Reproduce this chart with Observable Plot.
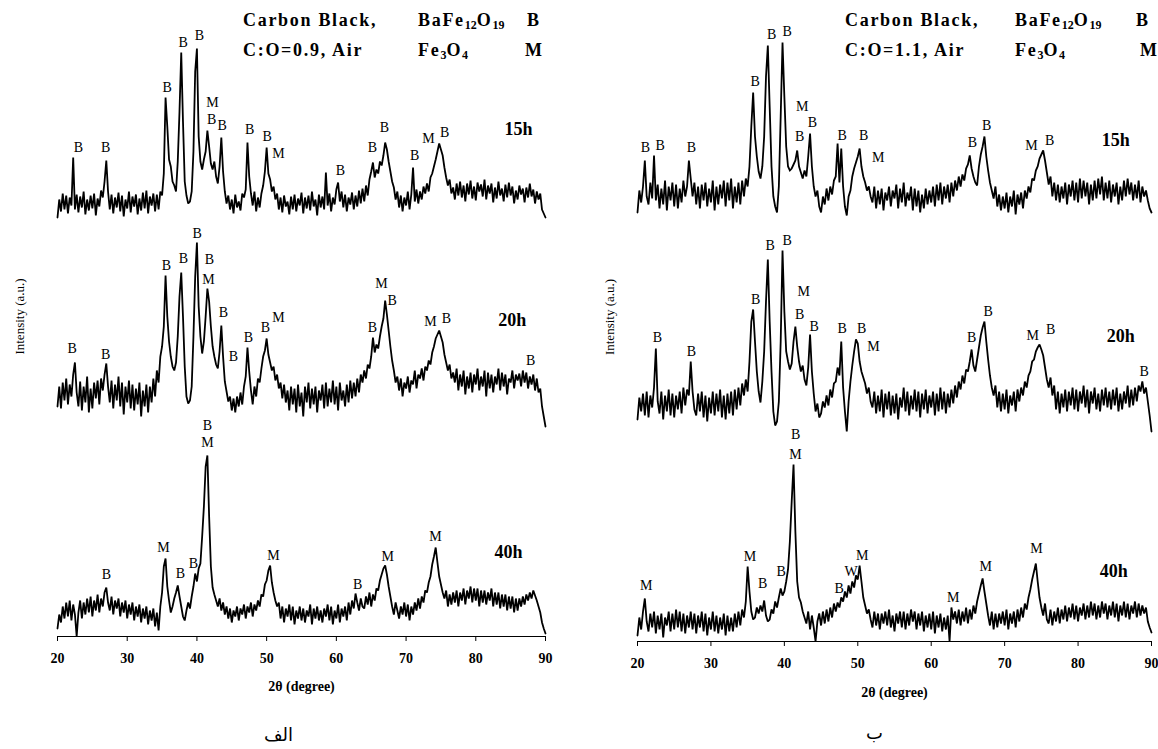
<!DOCTYPE html>
<html><head><meta charset="utf-8">
<script src="https://cdn.jsdelivr.net/npm/d3@7"></script>
<script src="https://cdn.jsdelivr.net/npm/@observablehq/plot@0.6"></script>
<style>
body{margin:0;background:#fff;}
#wrap{position:relative;width:1158px;height:749px;overflow:hidden;background:#fff;font-family:"Liberation Serif","Times New Roman",serif;}
#wrap svg{position:absolute;top:0;}
.leg{position:absolute;font-family:"Liberation Serif","Times New Roman",serif;font-weight:bold;font-size:18px;letter-spacing:1.7px;white-space:nowrap;line-height:18px;color:#000;}
.leg sub{font-size:12px;vertical-align:-3px;letter-spacing:0;}
</style></head><body><div id="wrap"></div>
<script>
// 2θ sampling: first angle and step (degrees)
const X0 = 20, STEP = 0.25;
const xTicks = [20, 30, 40, 50, 60, 70, 80, 90];
const sampleNames = ["15h", "20h", "40h"];
const stackOffsets = [415, 210, 0];
const SERIF = "'Liberation Serif', 'Times New Roman', serif";

// ---- Panel (الف): C:O = 0.9 ----
const L15 = [4,22,10,28, 12,26,8,24, 16,64,12,27, 9,25,14,30, 7,22,11,26, 13,28,6,23, 15,31,24,40, 61,30,12,27, 8,24,14,29, 10,26,5,22, 13,30,9,25, 15,27,7,23, 11,29,13,31, 8,25,16,28, 10,27,12,30, 26,48,124,95, 62,55,40,36, 30,60,110,169, 100,40,26,18, 20,30,70,150, 173,85,60,52, 62,70,91,75, 58,52,60,45, 38,55,84,50, 30,18,26,12, 22,8,27,14, 20,11,28,24, 32,79,45,28, 16,30,10,24, 14,28,36,50, 74,48,42,30, 35,22,28,12, 24,9,26,15, 20,7,25,12, 27,10,23,16, 29,8,24,13, 26,11,30,15, 22,6,27,14, 25,12,49,16, 28,10,24,17, 32,39,20,30, 14,27,10,24, 17,29,12,26, 15,31,18,33, 20,36,26,42, 50,59,44,52, 48,60,56,66, 79,72,60,50, 40,34,22,30, 14,26,10,24, 16,30,12,27, 54,20,32,18, 30,22,35,28, 38,30,44,48, 55,62,70,78, 72,66,54,44, 36,42,28,34, 22,38,26,40, 24,36,20,38, 27,41,23,35, 21,39,30,37, 25,42,22,36, 28,38,19,34, 23,40,26,33, 20,37,24,39, 26,35,18,31, 22,36,27,33, 19,34,24,38, 25,32,18,30, 22,28,12,8, 4];
const L20 = [20,40,18,44, 26,48,22,42, 30,52,64,34, 20,45,16,40, 24,50,14,38, 18,44,28,46, 22,48,36,52, 63,40,24,46, 18,42,26,50, 20,44,12,40, 24,46,18,42, 16,38,22,44, 10,36,20,42, 14,40,24,48, 30,56,44,70, 80,100,151,110, 85,70,60,56, 64,90,130,154, 110,60,30,23, 26,40,90,150, 184,120,90,73, 85,110,138,125, 100,80,70,62, 58,75,101,70, 45,35,25,30, 16,28,14,30, 20,34,22,40, 50,79,55,36, 22,40,30,48, 44,58,70,76, 88,72,64,56, 60,46,52,38, 44,28,42,24, 36,16,40,22, 38,14,42,20, 34,10,40,24, 44,18,38,22, 40,14,36,26, 42,18,44,20, 38,24,46,22, 40,16,44,26, 36,20,42,24, 46,28,44,30, 48,34,52,44, 56,48,62,58, 70,89,74,82, 78,90,100,108, 126,112,96,80, 66,56,44,50, 36,48,30,44, 38,50,34,46, 42,56,38,52, 48,58,46,60, 56,66,62,74, 80,88,92,96, 90,84,72,64, 56,62,48,54, 44,58,36,52, 40,56,32,50, 38,54,34,52, 42,58,36,50, 40,56,30,54, 38,52,34,50, 42,58,36,54, 40,52,32,48, 44,56,38,52, 46,53,40,56, 44,54,38,50, 42,52,36,48, 34,38,20,10, 0];
const L40 = [8,22,14,30, 18,34,20,36, 16,32,22,0, 24,36,18,34, 22,38,24,40, 20,36,26,42, 24,38,30,44, 49,34,26,40, 22,36,28,38, 20,34,24,36, 18,32,22,34, 16,30,20,32, 14,28,18,30, 12,26,16,28, 10,24,6,30, 44,70,78,50, 36,24,30,38, 44,51,40,30, 20,16,26,34, 28,40,50,63, 55,68,73,100, 130,170,181,120, 70,49,42,36, 30,38,26,34, 22,30,18,28, 14,26,20,30, 16,28,22,32, 18,30,24,34, 20,32,26,36, 30,42,40,52, 56,66,71,54, 44,36,30,34, 18,30,14,28, 20,32,16,30, 12,26,18,30, 16,28,14,26, 20,32,12,28, 18,30,16,26, 14,28,20,32, 16,30,12,26, 18,32,14,28, 20,30,16,34, 22,36,28,43, 34,26,38,30, 28,40,32,44, 30,42,36,48, 46,56,62,68, 71,62,50,40, 30,22,34,26, 18,30,22,34, 20,32,16,30, 22,34,26,38, 28,40,34,46, 44,54,60,72, 80,89,74,60, 52,44,38,46, 30,42,32,44, 34,46,30,44, 36,48,32,46, 38,50,34,48, 36,48,30,46, 34,46,32,44, 36,48,30,44, 32,44,28,42, 30,42,26,40, 28,40,24,38, 26,38,30,40, 32,42,36,44, 38,46,41,36, 30,24,14,8, 3];

// ---- Panel (ب): C:O = 1.1 ----
const R15 = [14,36,24,40, 66,30,22,44, 28,71,26,42, 18,38,22,46, 16,40,26,44, 20,42,18,38, 24,46,30,40, 66,48,30,44, 22,40,18,42, 26,44,20,38, 24,46,16,40, 22,42,28,46, 20,44,26,48, 18,40,24,44, 22,46,30,48, 40,60,100,134, 90,70,55,48, 60,90,150,181, 120,60,30,20, 14,40,110,184, 130,80,60,56, 58,62,66,76, 60,54,48,56, 50,70,93,60, 40,30,36,20, 14,30,22,38, 26,40,32,46, 50,83,44,78, 40,20,11,30, 36,50,58,64, 70,78,60,50, 44,36,40,30, 24,40,18,36, 22,38,16,34, 26,40,20,36, 28,42,18,38, 24,44,20,34, 26,40,16,38, 20,36,14,32, 18,38,22,36, 24,40,20,42, 26,44,22,40, 28,42,24,44, 30,46,36,50, 40,52,46,58, 62,71,58,50, 44,41,60,72, 80,90,70,56, 44,36,28,40, 20,32,16,30, 18,34,14,30, 20,36,12,32, 22,34,18,36, 28,40,34,48, 46,56,60,68, 72,76,66,54, 42,50,30,44, 26,42,24,40, 28,44,22,42, 30,46,26,44, 24,48,28,46, 30,44,22,42, 26,46,28,48, 32,50,26,44, 28,46,24,42, 30,44,22,40, 26,46,30,48, 32,44,26,42, 28,46,24,40, 30,36,26,18, 14];
const R20 = [12,34,20,38, 16,40,14,36, 24,44,83,30, 18,40,12,36, 20,42,16,38, 14,36,22,40, 18,44,26,42, 36,70,40,22, 16,38,20,40, 14,36,10,34, 18,40,16,38, 20,42,14,36, 12,38,18,40, 16,42,22,44, 26,48,36,52, 40,70,110,122, 90,60,40,29, 50,80,130,172, 110,60,20,6, 10,30,90,181, 120,80,70,62, 68,90,105,85, 70,60,66,52, 46,64,97,60, 38,20,28,14, 18,30,24,36, 26,42,34,48, 50,64,56,90, 44,20,0,30, 50,66,80,92, 88,70,60,54, 48,38,44,30, 24,40,18,36, 20,42,14,38, 22,40,16,36, 18,38,12,34, 24,44,20,40, 16,36,22,42, 20,40,14,38, 22,42,18,36, 24,40,16,38, 20,44,22,40, 18,38,24,42, 28,46,34,50, 42,56,48,62, 60,70,82,66, 60,72,84,96, 104,110,90,72, 56,44,36,46, 24,40,20,38, 22,42,18,36, 26,40,20,42, 30,44,36,50, 44,56,60,70, 72,80,84,87, 82,76,64,52, 44,54,36,46, 22,40,18,38, 24,42,20,40, 26,44,22,42, 20,40,28,46, 24,42,18,40, 28,44,22,38, 20,42,26,44, 24,40,22,42, 26,44,20,38, 22,40,28,46, 24,42,26,44, 30,46,40,50, 38,44,30,16, 0];
const R40 = [6,24,12,30, 43,20,10,28, 14,30,8,26, 12,28,4,24, 16,30,10,28, 12,32,14,30, 10,28,8,26, 14,30,12,28, 8,26,14,30, 10,28,6,24, 12,30,10,26, 8,24,12,28, 6,26,10,24, 10,28,14,30, 16,32,24,40, 75,50,30,22, 24,34,28,36, 30,41,26,20, 22,32,28,40, 34,44,53,46, 50,60,72,100, 140,177,110,60, 44,39,30,24, 18,30,12,26, 14,0,20,28, 16,30,18,32, 20,34,24,38, 30,39,34,44, 40,50,44,56, 48,60,54,66, 62,76,60,44, 36,28,32,22, 14,30,16,28, 12,28,18,30, 16,32,14,26, 10,28,18,30, 14,30,12,28, 16,32,20,30, 12,28,16,30, 10,26,14,28, 12,30,8,26, 14,28,10,24, 12,26,0,34, 22,30,18,32, 16,30,20,34, 18,32,22,36, 28,40,48,56, 63,50,38,26, 16,30,12,28, 14,28,18,30, 16,32,12,28, 18,30,14,32, 20,34,24,38, 32,44,52,62, 70,78,60,44, 34,26,38,22, 18,32,16,30, 20,34,18,32, 22,36,20,34, 24,38,22,36, 20,34,26,38, 22,36,24,40, 26,38,22,36, 24,40,28,38, 22,36,26,40, 24,38,20,36, 26,40,24,38, 22,36,28,40, 24,38,26,36, 28,34,20,14, 9];

// Peak labels: [2θ, stacked intensity, phase]
const leftPeakLabels = [
 [23.0,489,"B"],[26.9,489,"B"],[35.74,549,"B"],[38.03,594,"B"],[40.37,601,"B"],[42.24,534,"M"],[42.1,517,"B"],[43.63,511,"B"],[47.55,507,"B"],[50.09,500,"B"],[51.7,483,"M"],[60.6,466,"B"],[65.19,489,"B"],[66.9,509,"B"],[71.22,481,"B"],[73.23,498,"M"],[75.52,504,"B"],
 [22.1,288,"B"],[26.9,282,"B"],[35.64,371,"B"],[38.08,378,"B"],[40.04,403,"B"],[41.81,377,"B"],[41.66,357,"M"],[43.8,324,"B"],[45.25,280,"B"],[47.4,299,"B"],[49.84,309,"B"],[51.7,319,"M"],[65.19,309,"B"],[66.48,353,"M"],[68.02,336,"B"],[73.5,315,"M"],[75.8,318,"B"],[87.86,276,"B"],
 [27.03,62,"B"],[35.21,89,"M"],[37.65,63,"B"],[39.51,73,"B"],[41.52,211,"B"],[41.52,194,"M"],[50.99,81,"M"],[63.04,52,"B"],[67.35,80,"M"],[74.23,100,"M"]
];
const rightPeakLabels = [
 [21.09,494,"B"],[23.08,496,"B"],[27.36,494,"B"],[36.02,560,"B"],[38.26,607,"B"],[40.38,610,"B"],[42.44,535,"M"],[42.07,505,"B"],[43.81,519,"B"],[47.86,506,"B"],[50.79,506,"B"],[52.77,484,"M"],[65.6,499,"B"],[67.55,516,"B"],[73.64,496,"M"],[76.13,501,"B"],
 [22.72,304,"B"],[27.36,290,"B"],[36.08,342,"B"],[38.08,396,"B"],[40.38,401,"B"],[42.62,350,"M"],[42.07,327,"B"],[44.05,315,"B"],[47.86,313,"B"],[50.52,313,"B"],[52.15,295,"M"],[65.5,304,"B"],[67.77,330,"B"],[73.81,306,"M"],[76.27,312,"B"],[89.0,270,"B"],
 [21.2,56,"M"],[35.33,85,"M"],[37.03,58,"B"],[39.55,70,"B"],[41.53,207,"B"],[41.53,187,"M"],[47.48,53,"B"],[49.09,70,"W"],[50.6,86,"M"],[62.98,44,"M"],[67.41,75,"M"],[74.32,93,"M"]
];
// Sample (milling time) labels: [name, 2θ, stacked intensity]
const leftSampleLabels = [["15h",86.14,507],["20h",85.24,316],["40h",84.71,84]];
const rightSampleLabels = [["15h",85.12,501],["20h",85.8,305],["40h",84.85,70]];

function rows(series) {
  const out = [];
  series.forEach((arr, k) => arr.forEach((v, i) => out.push({x: X0 + STEP * i, y: v + stackOffsets[k], s: sampleNames[k]})));
  return out;
}

function panel({series, peaks, samples, width, height, marginLeft, marginRight, marginBottom, yMax, xLabelDy, yLabelDx, yLabelDy, caption, capDx, capDy}) {
  return Plot.plot({
    width, height, marginLeft, marginRight, marginTop: 10, marginBottom,
    x: {domain: [20, 90]},
    y: {domain: [0, yMax], axis: null},
    style: {fontFamily: SERIF, fontSize: "14px", color: "#000", background: "transparent", overflow: "visible"},
    marks: [
      Plot.ruleY([0], {stroke: "#000", strokeWidth: 1.2}),
      Plot.axisX({ticks: xTicks, tickFormat: d => String(d), tickSize: 5, tickPadding: 12, fontSize: 14, fontWeight: "bold", fontFamily: SERIF, label: null, stroke: "#000"}),
      Plot.line(rows(series), {x: "x", y: "y", z: "s", stroke: "#000", strokeWidth: 1.8, strokeLinejoin: "miter", strokeMiterlimit: 2}),
      Plot.text(peaks, {x: d => d[0], y: d => d[1], text: d => d[2], fontSize: 14, fontFamily: SERIF, lineAnchor: "middle", fill: "#000"}),
      Plot.text(samples, {x: d => d[1], y: d => d[2], text: d => d[0], fontSize: 18, fontWeight: "bold", fontFamily: SERIF, lineAnchor: "middle", fill: "#000"}),
      Plot.text(["2θ (degree)"], {text: d => d, frameAnchor: "bottom", dy: xLabelDy, fontSize: 14, fontWeight: "bold", fontFamily: SERIF, textAnchor: "middle", lineAnchor: "middle", fill: "#000"}),
      Plot.text(["Intensity (a.u.)"], {text: d => d, frameAnchor: "left", rotate: -90, dx: yLabelDx, dy: yLabelDy, fontSize: 13, fontFamily: SERIF, textAnchor: "middle", lineAnchor: "middle", fill: "#000"}),
      Plot.text([caption], {text: d => d, frameAnchor: "bottom", dx: capDx, dy: capDy, fontSize: 18, fontFamily: "'DejaVu Sans', sans-serif", textAnchor: "middle", lineAnchor: "middle", fill: "#000"})
    ]
  });
}

const wrap = document.getElementById("wrap");
const left = panel({series: [L15, L20, L40], peaks: leftPeakLabels, samples: leftSampleLabels,
  width: 560, height: 749, marginLeft: 57, marginRight: 15, marginBottom: 113, yMax: 626,
  xLabelDy: 50, yLabelDx: -38, yLabelDy: -7, caption: "الف", capDx: -23, capDy: 99});
left.style.left = "0px";
wrap.appendChild(left);
const right = panel({series: [R15, R20, R40], peaks: rightPeakLabels, samples: rightSampleLabels,
  width: 578, height: 749, marginLeft: 57, marginRight: 7, marginBottom: 108, yMax: 631,
  xLabelDy: 51, yLabelDx: -28, yLabelDy: -9, caption: "ب", capDx: -20, capDy: 92});
right.style.left = "580px";
wrap.appendChild(right);

// Phase key (legend)
const legendItems = [
  [243, 11, "Carbon Black,"], [243, 41, "C:O=0.9, Air"], [418, 11, "BaFe<sub>12</sub>O<sub>19</sub>"], [418, 41, "Fe<sub>3</sub>O<sub>4</sub>"], [527, 11, "B"], [525, 41, "M"],
  [845, 11, "Carbon Black,"], [845, 41, "C:O=1.1, Air"], [1015, 11, "BaFe<sub>12</sub>O<sub>19</sub>"], [1015, 41, "Fe<sub>3</sub>O<sub>4</sub>"], [1136, 11, "B"], [1140, 41, "M"]
];
for (const [x, y, html] of legendItems) {
  const d = document.createElement("div");
  d.className = "leg";
  d.style.left = x + "px";
  d.style.top = y + "px";
  d.innerHTML = html;
  wrap.appendChild(d);
}
</script>
</body></html>
